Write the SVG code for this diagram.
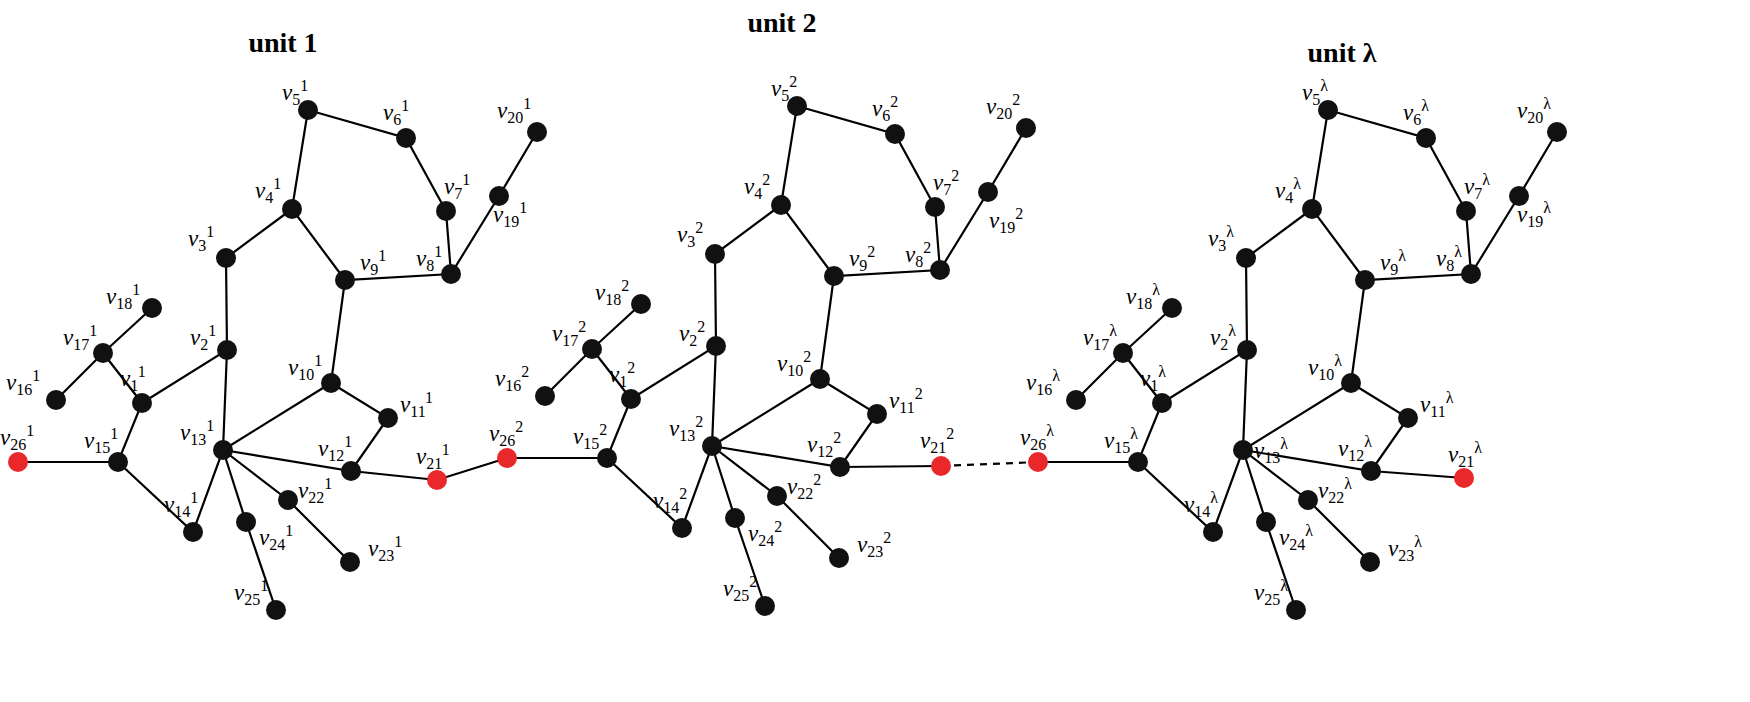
<svg xmlns="http://www.w3.org/2000/svg" width="1750" height="702" viewBox="0 0 1750 702">
<style>
.e{stroke:#000;stroke-width:2.2;fill:none}
.n{fill:#111}
.r{fill:#e8282b}
.t{font-family:"Liberation Serif",serif;font-size:28px;font-weight:bold}
.l{font-family:"Liberation Serif",serif;font-size:23px;font-style:italic}
.s{font-size:16px;font-style:normal}
</style>
<rect width="1750" height="702" fill="#fff"/>
<text class="t" x="283" y="52" text-anchor="middle">unit 1</text>
<text class="t" x="782" y="32" text-anchor="middle">unit 2</text>
<text class="t" x="1342" y="62" text-anchor="middle">unit λ</text>
<defs>
<g id="edges">
<path class="e" d="M308,110L406,138L446,211L451,274L345,280L292,209L308,110M292,209L226,258L227,350L142,403L103,353L152,308M103,353L56,400M142,403L118,462L18,462M118,462L193,532L223,450L227,350M223,450L331,383L345,280M331,383L388,418L351,471L223,450M223,450L288,500L350,562M223,450L246,522L276,610M451,274L499,196L537,132"/>
</g>
</defs>
<g id="connectors">
<use href="#edges"/>
<use href="#edges" transform="translate(489,-4)"/>
<use href="#edges" transform="translate(1020,0)"/>
<path class="e" d="M351,471L437,480L507,458M840,467L941,466M1371,471L1464,478"/>
<path class="e" d="M941,466L1038,462" stroke-dasharray="7,6"/>
</g>
<defs>
<g id="nodes">
<circle class="n" cx="308" cy="110" r="10"/><circle class="n" cx="406" cy="138" r="10"/><circle class="n" cx="446" cy="211" r="10"/><circle class="n" cx="451" cy="274" r="10"/><circle class="n" cx="345" cy="280" r="10"/><circle class="n" cx="292" cy="209" r="10"/><circle class="n" cx="226" cy="258" r="10"/><circle class="n" cx="227" cy="350" r="10"/><circle class="n" cx="142" cy="403" r="10"/><circle class="n" cx="103" cy="353" r="10"/><circle class="n" cx="152" cy="308" r="10"/><circle class="n" cx="56" cy="400" r="10"/><circle class="n" cx="118" cy="462" r="10"/><circle class="r" cx="18" cy="462" r="10"/><circle class="n" cx="193" cy="532" r="10"/><circle class="n" cx="223" cy="450" r="10"/><circle class="n" cx="331" cy="383" r="10"/><circle class="n" cx="388" cy="418" r="10"/><circle class="n" cx="351" cy="471" r="10"/><circle class="n" cx="288" cy="500" r="10"/><circle class="n" cx="350" cy="562" r="10"/><circle class="n" cx="246" cy="522" r="10"/><circle class="n" cx="276" cy="610" r="10"/><circle class="n" cx="499" cy="196" r="10"/><circle class="n" cx="537" cy="132" r="10"/>
</g>
</defs>
<g id="unit1">
<use href="#nodes"/>
<circle id="v21-1" class="r" cx="437" cy="480" r="10"/>
<g class="l">
<text x="282" y="100">v<tspan class="s" dy="5">5</tspan><tspan class="s" dy="-14">1</tspan></text>
<text x="383" y="120">v<tspan class="s" dy="5">6</tspan><tspan class="s" dy="-14">1</tspan></text>
<text x="444" y="194">v<tspan class="s" dy="5">7</tspan><tspan class="s" dy="-14">1</tspan></text>
<text x="416" y="266">v<tspan class="s" dy="5">8</tspan><tspan class="s" dy="-14">1</tspan></text>
<text x="360" y="270">v<tspan class="s" dy="5">9</tspan><tspan class="s" dy="-14">1</tspan></text>
<text x="255" y="198">v<tspan class="s" dy="5">4</tspan><tspan class="s" dy="-14">1</tspan></text>
<text x="188" y="246">v<tspan class="s" dy="5">3</tspan><tspan class="s" dy="-14">1</tspan></text>
<text x="190" y="345">v<tspan class="s" dy="5">2</tspan><tspan class="s" dy="-14">1</tspan></text>
<text x="120" y="386">v<tspan class="s" dy="5">1</tspan><tspan class="s" dy="-14">1</tspan></text>
<text x="63" y="345">v<tspan class="s" dy="5">17</tspan><tspan class="s" dy="-14">1</tspan></text>
<text x="106" y="304">v<tspan class="s" dy="5">18</tspan><tspan class="s" dy="-14">1</tspan></text>
<text x="6" y="390">v<tspan class="s" dy="5">16</tspan><tspan class="s" dy="-14">1</tspan></text>
<text x="84" y="448">v<tspan class="s" dy="5">15</tspan><tspan class="s" dy="-14">1</tspan></text>
<text x="0" y="445">v<tspan class="s" dy="5">26</tspan><tspan class="s" dy="-14">1</tspan></text>
<text x="164" y="512">v<tspan class="s" dy="5">14</tspan><tspan class="s" dy="-14">1</tspan></text>
<text x="180" y="440">v<tspan class="s" dy="5">13</tspan><tspan class="s" dy="-14">1</tspan></text>
<text x="288" y="375">v<tspan class="s" dy="5">10</tspan><tspan class="s" dy="-14">1</tspan></text>
<text x="400" y="412">v<tspan class="s" dy="5">11</tspan><tspan class="s" dy="-14">1</tspan></text>
<text x="318" y="456">v<tspan class="s" dy="5">12</tspan><tspan class="s" dy="-14">1</tspan></text>
<text x="416" y="464">v<tspan class="s" dy="5">21</tspan><tspan class="s" dy="-14">1</tspan></text>
<text x="298" y="498">v<tspan class="s" dy="5">22</tspan><tspan class="s" dy="-14">1</tspan></text>
<text x="368" y="556">v<tspan class="s" dy="5">23</tspan><tspan class="s" dy="-14">1</tspan></text>
<text x="259" y="545">v<tspan class="s" dy="5">24</tspan><tspan class="s" dy="-14">1</tspan></text>
<text x="234" y="600">v<tspan class="s" dy="5">25</tspan><tspan class="s" dy="-14">1</tspan></text>
<text x="493" y="222">v<tspan class="s" dy="5">19</tspan><tspan class="s" dy="-14">1</tspan></text>
<text x="497" y="118">v<tspan class="s" dy="5">20</tspan><tspan class="s" dy="-14">1</tspan></text>
</g>
</g>
<g id="unit2">
<use href="#nodes" transform="translate(489,-4)"/>
<circle id="v21-2" class="r" cx="941" cy="466" r="10"/>
<g class="l" transform="translate(489,-4)">
<text x="282" y="100">v<tspan class="s" dy="5">5</tspan><tspan class="s" dy="-14">2</tspan></text>
<text x="383" y="120">v<tspan class="s" dy="5">6</tspan><tspan class="s" dy="-14">2</tspan></text>
<text x="444" y="194">v<tspan class="s" dy="5">7</tspan><tspan class="s" dy="-14">2</tspan></text>
<text x="416" y="266">v<tspan class="s" dy="5">8</tspan><tspan class="s" dy="-14">2</tspan></text>
<text x="360" y="270">v<tspan class="s" dy="5">9</tspan><tspan class="s" dy="-14">2</tspan></text>
<text x="255" y="198">v<tspan class="s" dy="5">4</tspan><tspan class="s" dy="-14">2</tspan></text>
<text x="188" y="246">v<tspan class="s" dy="5">3</tspan><tspan class="s" dy="-14">2</tspan></text>
<text x="190" y="345">v<tspan class="s" dy="5">2</tspan><tspan class="s" dy="-14">2</tspan></text>
<text x="120" y="386">v<tspan class="s" dy="5">1</tspan><tspan class="s" dy="-14">2</tspan></text>
<text x="63" y="345">v<tspan class="s" dy="5">17</tspan><tspan class="s" dy="-14">2</tspan></text>
<text x="106" y="304">v<tspan class="s" dy="5">18</tspan><tspan class="s" dy="-14">2</tspan></text>
<text x="6" y="390">v<tspan class="s" dy="5">16</tspan><tspan class="s" dy="-14">2</tspan></text>
<text x="84" y="448">v<tspan class="s" dy="5">15</tspan><tspan class="s" dy="-14">2</tspan></text>
<text x="0" y="445">v<tspan class="s" dy="5">26</tspan><tspan class="s" dy="-14">2</tspan></text>
<text x="164" y="512">v<tspan class="s" dy="5">14</tspan><tspan class="s" dy="-14">2</tspan></text>
<text x="180" y="440">v<tspan class="s" dy="5">13</tspan><tspan class="s" dy="-14">2</tspan></text>
<text x="288" y="375">v<tspan class="s" dy="5">10</tspan><tspan class="s" dy="-14">2</tspan></text>
<text x="400" y="412">v<tspan class="s" dy="5">11</tspan><tspan class="s" dy="-14">2</tspan></text>
<text x="318" y="456">v<tspan class="s" dy="5">12</tspan><tspan class="s" dy="-14">2</tspan></text>
<text x="431" y="452">v<tspan class="s" dy="5">21</tspan><tspan class="s" dy="-14">2</tspan></text>
<text x="298" y="498">v<tspan class="s" dy="5">22</tspan><tspan class="s" dy="-14">2</tspan></text>
<text x="368" y="556">v<tspan class="s" dy="5">23</tspan><tspan class="s" dy="-14">2</tspan></text>
<text x="259" y="545">v<tspan class="s" dy="5">24</tspan><tspan class="s" dy="-14">2</tspan></text>
<text x="234" y="600">v<tspan class="s" dy="5">25</tspan><tspan class="s" dy="-14">2</tspan></text>
<text x="500" y="232">v<tspan class="s" dy="5">19</tspan><tspan class="s" dy="-14">2</tspan></text>
<text x="497" y="118">v<tspan class="s" dy="5">20</tspan><tspan class="s" dy="-14">2</tspan></text>
</g>
</g>
<g id="unit3">
<use href="#nodes" transform="translate(1020,0)"/>
<circle id="v21-l" class="r" cx="1464" cy="478" r="10"/>
<g class="l" transform="translate(1020,0)">
<text x="282" y="100">v<tspan class="s" dy="5">5</tspan><tspan class="s" dy="-14">λ</tspan></text>
<text x="383" y="120">v<tspan class="s" dy="5">6</tspan><tspan class="s" dy="-14">λ</tspan></text>
<text x="444" y="194">v<tspan class="s" dy="5">7</tspan><tspan class="s" dy="-14">λ</tspan></text>
<text x="416" y="266">v<tspan class="s" dy="5">8</tspan><tspan class="s" dy="-14">λ</tspan></text>
<text x="360" y="270">v<tspan class="s" dy="5">9</tspan><tspan class="s" dy="-14">λ</tspan></text>
<text x="255" y="198">v<tspan class="s" dy="5">4</tspan><tspan class="s" dy="-14">λ</tspan></text>
<text x="188" y="246">v<tspan class="s" dy="5">3</tspan><tspan class="s" dy="-14">λ</tspan></text>
<text x="190" y="345">v<tspan class="s" dy="5">2</tspan><tspan class="s" dy="-14">λ</tspan></text>
<text x="120" y="386">v<tspan class="s" dy="5">1</tspan><tspan class="s" dy="-14">λ</tspan></text>
<text x="63" y="345">v<tspan class="s" dy="5">17</tspan><tspan class="s" dy="-14">λ</tspan></text>
<text x="106" y="304">v<tspan class="s" dy="5">18</tspan><tspan class="s" dy="-14">λ</tspan></text>
<text x="6" y="390">v<tspan class="s" dy="5">16</tspan><tspan class="s" dy="-14">λ</tspan></text>
<text x="84" y="448">v<tspan class="s" dy="5">15</tspan><tspan class="s" dy="-14">λ</tspan></text>
<text x="0" y="445">v<tspan class="s" dy="5">26</tspan><tspan class="s" dy="-14">λ</tspan></text>
<text x="164" y="512">v<tspan class="s" dy="5">14</tspan><tspan class="s" dy="-14">λ</tspan></text>
<text x="234" y="458">v<tspan class="s" dy="5">13</tspan><tspan class="s" dy="-14">λ</tspan></text>
<text x="288" y="375">v<tspan class="s" dy="5">10</tspan><tspan class="s" dy="-14">λ</tspan></text>
<text x="400" y="412">v<tspan class="s" dy="5">11</tspan><tspan class="s" dy="-14">λ</tspan></text>
<text x="318" y="456">v<tspan class="s" dy="5">12</tspan><tspan class="s" dy="-14">λ</tspan></text>
<text x="428" y="462">v<tspan class="s" dy="5">21</tspan><tspan class="s" dy="-14">λ</tspan></text>
<text x="298" y="498">v<tspan class="s" dy="5">22</tspan><tspan class="s" dy="-14">λ</tspan></text>
<text x="368" y="556">v<tspan class="s" dy="5">23</tspan><tspan class="s" dy="-14">λ</tspan></text>
<text x="259" y="545">v<tspan class="s" dy="5">24</tspan><tspan class="s" dy="-14">λ</tspan></text>
<text x="234" y="600">v<tspan class="s" dy="5">25</tspan><tspan class="s" dy="-14">λ</tspan></text>
<text x="497" y="222">v<tspan class="s" dy="5">19</tspan><tspan class="s" dy="-14">λ</tspan></text>
<text x="497" y="118">v<tspan class="s" dy="5">20</tspan><tspan class="s" dy="-14">λ</tspan></text>
</g>
</g>
</svg>
